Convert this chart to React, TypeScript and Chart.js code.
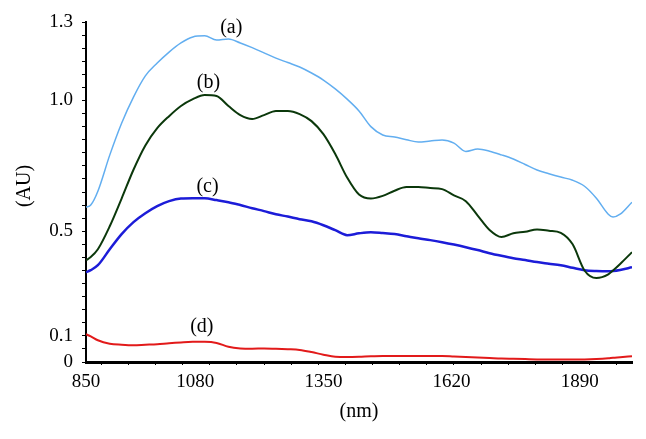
import React, { useEffect, useRef } from 'react';
import { Chart, registerables } from 'chart.js';

Chart.register(...registerables);

const wavelengths = [850, 860, 875, 900, 925, 950, 975, 1000, 1025, 1050, 1075, 1100, 1125, 1150, 1175, 1200, 1225, 1250, 1275, 1300, 1325, 1350, 1375, 1400, 1425, 1450, 1475, 1500, 1525, 1550, 1575, 1600, 1625, 1650, 1675, 1700, 1725, 1750, 1775, 1800, 1825, 1850, 1875, 1900, 1925, 1950, 1960, 1975, 2000];

const seriesA = [0.592, 0.600, 0.653, 0.791, 0.913, 1.013, 1.094, 1.143, 1.185, 1.220, 1.243, 1.247, 1.231, 1.235, 1.220, 1.202, 1.182, 1.162, 1.145, 1.128, 1.105, 1.078, 1.044, 1.005, 0.960, 0.900, 0.868, 0.860, 0.850, 0.841, 0.845, 0.849, 0.837, 0.805, 0.814, 0.806, 0.792, 0.776, 0.755, 0.734, 0.720, 0.707, 0.695, 0.672, 0.626, 0.565, 0.554, 0.565, 0.611];

const seriesB = [0.389, 0.401, 0.431, 0.519, 0.625, 0.735, 0.828, 0.894, 0.940, 0.979, 1.005, 1.021, 1.017, 0.979, 0.944, 0.929, 0.944, 0.960, 0.960, 0.948, 0.921, 0.871, 0.795, 0.705, 0.640, 0.625, 0.635, 0.655, 0.669, 0.669, 0.665, 0.661, 0.637, 0.615, 0.560, 0.505, 0.478, 0.492, 0.498, 0.507, 0.502, 0.494, 0.450, 0.350, 0.321, 0.335, 0.350, 0.375, 0.420];

const seriesC = [0.343, 0.351, 0.370, 0.431, 0.489, 0.535, 0.569, 0.596, 0.615, 0.625, 0.626, 0.626, 0.619, 0.611, 0.600, 0.588, 0.577, 0.565, 0.556, 0.546, 0.538, 0.523, 0.504, 0.485, 0.492, 0.496, 0.493, 0.489, 0.481, 0.473, 0.466, 0.458, 0.449, 0.439, 0.428, 0.416, 0.406, 0.397, 0.390, 0.382, 0.376, 0.370, 0.360, 0.351, 0.348, 0.347, 0.348, 0.352, 0.362];

const seriesD = [0.106, 0.098, 0.083, 0.070, 0.066, 0.064, 0.066, 0.068, 0.072, 0.075, 0.077, 0.077, 0.073, 0.058, 0.052, 0.051, 0.052, 0.051, 0.049, 0.046, 0.038, 0.028, 0.020, 0.019, 0.020, 0.022, 0.023, 0.023, 0.023, 0.023, 0.023, 0.023, 0.021, 0.019, 0.017, 0.015, 0.013, 0.012, 0.011, 0.010, 0.010, 0.010, 0.010, 0.010, 0.011, 0.014, 0.016, 0.018, 0.022];

const seriesNames = ['(a)', '(b)', '(c)', '(d)'];
const seriesColors = ['#62aef0', '#0b380b', '#1c1cd8', '#e21a1a'];
const seriesWidths = [1.5, 2, 2.5, 2];
const labelX = [1156, 1108, 1106, 1094];
const labelY = [1.277, 1.067, 0.669, 0.133];

const xTickValues = [850, 1080, 1350, 1620, 1890];
const xMinorTicks = [883, 940, 997, 1054, 1111, 1168, 1226, 1283, 1340, 1397, 1454, 1511, 1568, 1625, 1682, 1740, 1797, 1854, 1911, 1968];
const yTickValues = [0, 0.1, 0.5, 1.0, 1.3];
const yTickText = ['0', '0.1', '0.5', '1.0', '1.3'];
const xTitle = '(nm)';
const yTitle = '(AU)';

const FONT = "'Liberation Serif', 'Times New Roman', serif";

export default function App() {
  const ref = useRef<HTMLCanvasElement | null>(null);

  useEffect(() => {
    if (!ref.current) return;
    const allSeries = [seriesA, seriesB, seriesC, seriesD];

    const yMinor: number[] = [];
    for (let k = 0; k <= 26; k++) yMinor.push(Math.round(k * 5) / 100);

    const textPlugin = {
      id: 'texts',
      afterDraw(chart: any) {
        const ctx = chart.ctx;
        const xs = chart.scales.x;
        const ys = chart.scales.y;
        const area = chart.chartArea;
        ctx.save();
        ctx.fillStyle = '#000';
        ctx.font = `20px ${FONT}`;
        ctx.textAlign = 'center';
        ctx.textBaseline = 'middle';
        for (let i = 0; i < seriesNames.length; i++) {
          ctx.fillText(seriesNames[i], xs.getPixelForValue(labelX[i]), ys.getPixelForValue(labelY[i]));
        }
        ctx.fillText(xTitle, (area.left + area.right) / 2, 412);
        ctx.translate(25, (area.top + area.bottom) / 2 - 6);
        ctx.rotate(-Math.PI / 2);
        ctx.fillText(yTitle, 0, 0);
        ctx.restore();
      },
    };

    const chart = new Chart(ref.current, {
      type: 'line',
      data: {
        datasets: allSeries.map((s, i) => ({
          label: seriesNames[i],
          data: wavelengths.map((w, j) => ({ x: w, y: s[j] })),
          borderColor: seriesColors[i],
          borderWidth: seriesWidths[i],
          pointRadius: 0,
          cubicInterpolationMode: 'monotone' as const,
          fill: false,
        })),
      },
      options: {
        animation: false,
        responsive: true,
        maintainAspectRatio: false,
        layout: { padding: { top: 22, right: 14, left: 0, bottom: 0 } },
        plugins: { legend: { display: false }, tooltip: { enabled: false } },
        scales: {
          x: {
            type: 'linear',
            min: 850,
            max: 2000,
            afterFit(scale: any) { scale.height = 77; },
            afterBuildTicks(scale: any) {
              const vals = [...xTickValues, ...xMinorTicks].sort((a, b) => a - b);
              scale.ticks = vals.map((v) => ({ value: v }));
            },
            ticks: {
              autoSkip: false,
              maxRotation: 0,
              padding: 6,
              color: '#000',
              font: { family: FONT, size: 19 },
              callback: (v: any) => {
                const idx = xTickValues.indexOf(Number(v));
                return idx >= 0 ? String(xTickValues[idx]) : '';
              },
            },
            grid: {
              drawOnChartArea: false,
              drawTicks: true,
              tickLength: 3,
              tickWidth: 1,
              tickColor: (c: any) => (c.tick && xTickValues.indexOf(c.tick.value) >= 0 ? 'rgba(0,0,0,0)' : '#000'),
            },
            border: { display: true, color: '#000', width: 3 },
          },
          y: {
            type: 'linear',
            min: 0,
            max: 1.3,
            afterFit(scale: any) { scale.width = 86; },
            afterBuildTicks(scale: any) {
              scale.ticks = yMinor.map((v) => ({ value: v }));
            },
            ticks: {
              autoSkip: false,
              padding: 9,
              color: '#000',
              font: { family: FONT, size: 19 },
              callback: (v: any) => {
                const n = Number(v);
                for (let i = 0; i < yTickValues.length; i++) {
                  if (Math.abs(yTickValues[i] - n) < 1e-6) return yTickText[i];
                }
                return '';
              },
            },
            grid: {
              drawOnChartArea: false,
              drawTicks: true,
              tickLength: 4,
              tickWidth: 1,
              tickColor: '#000',
            },
            border: { display: true, color: '#000', width: 2 },
          },
        },
      },
      plugins: [textPlugin],
    } as any);

    return () => chart.destroy();
  }, []);

  return (
    <div style={{ position: 'fixed', left: 0, top: 0, width: 646, height: 439, background: '#fff' }}>
      <canvas ref={ref} />
    </div>
  );
}
